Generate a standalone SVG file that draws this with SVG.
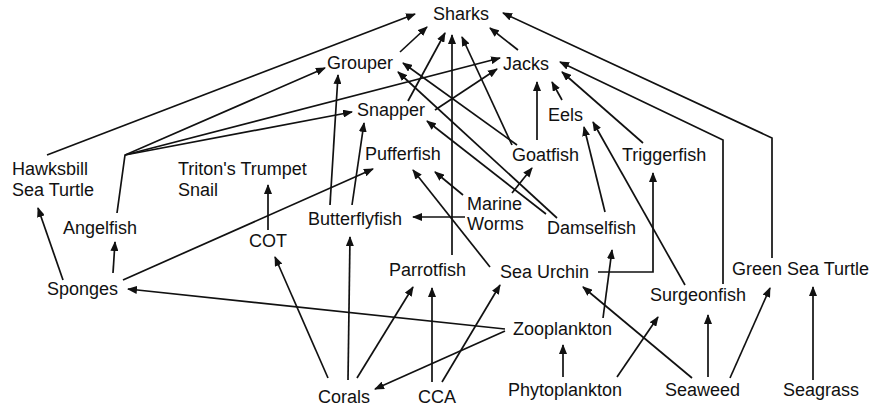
<svg xmlns="http://www.w3.org/2000/svg" width="891" height="410" viewBox="0 0 891 410">
<style>
  text { font-family: "Liberation Sans", Arial, Helvetica, sans-serif; font-size: 18px; fill: #111; }
  .e { fill: none; stroke: #111; stroke-width: 1.7; marker-end: url(#ah); }
</style>
<defs>
  <marker id="ah" viewBox="0 0 10 8" refX="9" refY="4" markerWidth="10" markerHeight="8" markerUnits="userSpaceOnUse" orient="auto">
    <path d="M0,0 L10,4 L0,8 Z" fill="#111"/>
  </marker>
</defs>
<rect width="891" height="410" fill="#fff"/>
<g id="connectors">
  <path class="e" d="M47,155 L415,14"/>
  <path class="e" d="M400,52 L427,27"/>
  <path class="e" d="M408,101 L445,33"/>
  <path class="e" d="M452,255 L452,35"/>
  <path class="e" d="M512,145 L462,37"/>
  <path class="e" d="M518,50 L490,28"/>
  <path class="e" d="M772,258 L772,138 L503,13"/>
  <path class="e" d="M117,213 L125,155 L325,68"/>
  <path class="e" d="M125,155 L352,112"/>
  <path class="e" d="M125,155 L500,58"/>
  <path class="e" d="M435,110 L497,69"/>
  <path class="e" d="M537,140 L537,82"/>
  <path class="e" d="M562,100 L552,82"/>
  <path class="e" d="M723,284 L723,140 L560,62"/>
  <path class="e" d="M643,143 L562,72"/>
  <path class="e" d="M330,205 L338,75"/>
  <path class="e" d="M517,145 L403,63"/>
  <path class="e" d="M557,218 L398,72"/>
  <path class="e" d="M352,205 L364,123"/>
  <path class="e" d="M546,214 L427,121"/>
  <path class="e" d="M605,212 L584,127"/>
  <path class="e" d="M685,285 L593,122"/>
  <path class="e" d="M123,280 L373,169"/>
  <path class="e" d="M490,267 L413,170"/>
  <path class="e" d="M463,195 L435,172"/>
  <path class="e" d="M512,193 L532,168"/>
  <path class="e" d="M465,217 L413,217"/>
  <path class="e" d="M598,272 L653,272 L653,173"/>
  <path class="e" d="M603,318 L612,250"/>
  <path class="e" d="M63,280 L38,208"/>
  <path class="e" d="M113,273 L115,242"/>
  <path class="e" d="M268,230 L268,185"/>
  <path class="e" d="M328,378 L275,257"/>
  <path class="e" d="M348,380 L350,237"/>
  <path class="e" d="M357,378 L413,287"/>
  <path class="e" d="M432,382 L432,288"/>
  <path class="e" d="M442,382 L500,285"/>
  <path class="e" d="M692,378 L583,287"/>
  <path class="e" d="M505,329 L128,289"/>
  <path class="e" d="M505,331 L375,389"/>
  <path class="e" d="M563,377 L563,345"/>
  <path class="e" d="M617,377 L658,317"/>
  <path class="e" d="M708,377 L708,315"/>
  <path class="e" d="M730,378 L770,288"/>
  <path class="e" d="M813,380 L813,287"/>
</g>
<g id="sharks"><text x="433" y="20">Sharks</text></g>
<g id="grouper"><text x="327" y="69">Grouper</text></g>
<g id="jacks"><text x="503" y="70">Jacks</text></g>
<g id="snapper"><text x="357" y="116">Snapper</text></g>
<g id="eels"><text x="548" y="121">Eels</text></g>
<g id="pufferfish"><text x="365" y="160">Pufferfish</text></g>
<g id="goatfish"><text x="512" y="161">Goatfish</text></g>
<g id="triggerfish"><text x="622" y="161">Triggerfish</text></g>
<g id="hawksbill"><text x="12" y="175">Hawksbill<tspan x="12" y="196">Sea Turtle</tspan></text></g>
<g id="triton"><text x="178" y="175">Triton's Trumpet<tspan x="178" y="196">Snail</tspan></text></g>
<g id="marine-worms"><text x="467" y="210">Marine<tspan x="467" y="230">Worms</tspan></text></g>
<g id="butterflyfish"><text x="308" y="225">Butterflyfish</text></g>
<g id="damselfish"><text x="547" y="234">Damselfish</text></g>
<g id="angelfish"><text x="63" y="234">Angelfish</text></g>
<g id="cot"><text x="249" y="247">COT</text></g>
<g id="parrotfish"><text x="389" y="276">Parrotfish</text></g>
<g id="sea-urchin"><text x="500" y="278">Sea Urchin</text></g>
<g id="green-sea-turtle"><text x="732" y="275">Green Sea Turtle</text></g>
<g id="sponges"><text x="47" y="295">Sponges</text></g>
<g id="surgeonfish"><text x="650" y="301">Surgeonfish</text></g>
<g id="zooplankton"><text x="513" y="335">Zooplankton</text></g>
<g id="corals"><text x="318" y="403">Corals</text></g>
<g id="cca"><text x="418" y="403">CCA</text></g>
<g id="phytoplankton"><text x="508" y="396">Phytoplankton</text></g>
<g id="seaweed"><text x="665" y="396">Seaweed</text></g>
<g id="seagrass"><text x="783" y="396">Seagrass</text></g>
</svg>
